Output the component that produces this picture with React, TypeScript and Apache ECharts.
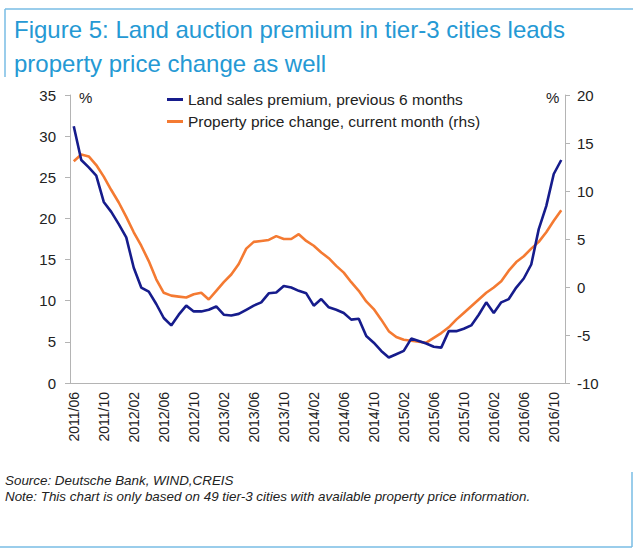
import React, { useEffect, useRef } from "react";
import * as echarts from "echarts";

const months: string[] = [
  "2011/06","2011/07","2011/08","2011/09","2011/10","2011/11","2011/12",
  "2012/01","2012/02","2012/03","2012/04","2012/05","2012/06","2012/07","2012/08","2012/09","2012/10","2012/11","2012/12",
  "2013/01","2013/02","2013/03","2013/04","2013/05","2013/06","2013/07","2013/08","2013/09","2013/10","2013/11","2013/12",
  "2014/01","2014/02","2014/03","2014/04","2014/05","2014/06","2014/07","2014/08","2014/09","2014/10","2014/11","2014/12",
  "2015/01","2015/02","2015/03","2015/04","2015/05","2015/06","2015/07","2015/08","2015/09","2015/10","2015/11","2015/12",
  "2016/01","2016/02","2016/03","2016/04","2016/05","2016/06","2016/07","2016/08","2016/09","2016/10","2016/11",
];

const landPremium: number[] = [
  31.2, 27.1, 26.2, 25.2, 22.0, 20.8, 19.3, 17.7, 14.0, 11.6, 11.1,
  9.6, 7.9, 7.0, 8.3, 9.4, 8.7, 8.7, 8.9, 9.3, 8.3, 8.2,
  8.4, 8.9, 9.4, 9.8, 10.9, 11.0, 11.8, 11.6, 11.2, 10.9, 9.4,
  10.2, 9.2, 8.9, 8.5, 7.7, 7.8, 5.7, 4.9, 3.9, 3.1, 3.5, 3.9,
  5.4, 5.1, 4.8, 4.4, 4.3, 6.3, 6.3, 6.6, 7.0, 8.3, 9.8,
  8.5, 9.8, 10.2, 11.6, 12.7, 14.4, 18.7, 21.5, 25.4, 27.1,
];

const priceChange: number[] = [
  13.1, 13.8, 13.6, 12.7, 11.5, 10.1, 8.8, 7.3, 5.7, 4.3, 2.7,
  0.8, -0.6, -0.9, -1.0, -1.1, -0.75, -0.6, -1.3, -0.4, 0.5, 1.3,
  2.4, 4.0, 4.7, 4.8, 4.9, 5.3, 5.0, 5.0, 5.5, 4.8, 4.3,
  3.6, 3.0, 2.2, 1.5, 0.5, -0.4, -1.5, -2.3, -3.4, -4.6, -5.2, -5.5,
  -5.6, -5.7, -5.8, -5.3, -4.8, -4.2, -3.4, -2.7, -2.0, -1.3, -0.6,
  -0.05, 0.6, 1.7, 2.6, 3.2, 4.0, 4.7, 5.7, 6.9, 8.0,
];

const seriesNames: string[] = [
  "Land sales premium, previous 6 months",
  "Property price change, current month (rhs)",
];

const titleText = "Figure 5: Land auction premium in tier-3 cities leads\nproperty price change as well";
const sourceText = "Source: Deutsche Bank, WIND,CREIS";
const noteText = "Note: This chart is only based on 49 tier-3 cities with available property price information.";

const BLUE = "#161c8c";
const ORANGE = "#f47a32";
const FRAME = "#78bde4";
const TITLE = "#2599d4";
const AXIS = "#b4b4b4";
const TEXT = "#222222";
const FONT = "'Liberation Sans', Arial, Helvetica, sans-serif";

export default function App() {
  const ref = useRef<HTMLDivElement>(null);
  useEffect(() => {
    if (!ref.current) return;
    const chart = echarts.init(ref.current, undefined, { renderer: "svg" });
    chart.setOption({
      animation: false,
      backgroundColor: "#ffffff",
      textStyle: { fontFamily: FONT },
      title: {
        text: titleText,
        left: 9,
        top: 7,
        textStyle: {
          color: TITLE,
          fontSize: 24,
          fontWeight: "normal",
          lineHeight: 34,
          fontFamily: FONT,
        },
      },
      legend: {
        orient: "vertical",
        left: 162,
        top: 86,
        itemWidth: 16,
        itemHeight: 3,
        itemGap: 5,
        icon: "rect",
        textStyle: { color: TEXT, fontSize: 15.5, lineHeight: 17, fontFamily: FONT },
        data: seriesNames,
      },
      grid: { left: 70, right: 75, top: 95, bottom: 171, containLabel: false },
      xAxis: {
        type: "category",
        data: months,
        boundaryGap: true,
        axisLine: { lineStyle: { color: AXIS, width: 1 } },
        axisTick: { interval: 3, alignWithLabel: false, length: 5, lineStyle: { color: AXIS } },
        axisLabel: {
          interval: 3,
          rotate: 90,
          color: TEXT,
          fontSize: 14,
          margin: 9,
          fontFamily: FONT,
        },
        splitLine: { show: false },
      },
      yAxis: [
        {
          type: "value",
          min: 0,
          max: 35,
          interval: 5,
          position: "left",
          axisLine: { show: true, lineStyle: { color: AXIS } },
          axisTick: { show: true, length: 5, lineStyle: { color: AXIS } },
          axisLabel: { color: TEXT, fontSize: 15, margin: 14, fontFamily: FONT },
          splitLine: { show: false },
        },
        {
          type: "value",
          min: -10,
          max: 20,
          interval: 5,
          position: "right",
          axisLine: { show: true, lineStyle: { color: AXIS } },
          axisTick: { show: true, length: 5, lineStyle: { color: AXIS } },
          axisLabel: { color: TEXT, fontSize: 15, margin: 12, fontFamily: FONT },
          splitLine: { show: false },
        },
      ],
      series: [
        {
          name: seriesNames[0],
          type: "line",
          yAxisIndex: 0,
          data: landPremium,
          showSymbol: false,
          symbol: "none",
          lineStyle: { color: BLUE, width: 2.6 },
          itemStyle: { color: BLUE },
        },
        {
          name: seriesNames[1],
          type: "line",
          yAxisIndex: 1,
          data: priceChange,
          showSymbol: false,
          symbol: "none",
          lineStyle: { color: ORANGE, width: 2.6 },
          itemStyle: { color: ORANGE },
          z: 1,
        },
      ],
      graphic: [
        { type: "line", shape: { x1: 5, y1: 9, x2: 633, y2: 9 }, style: { stroke: FRAME, lineWidth: 1.5 } },
        { type: "line", shape: { x1: 5, y1: 9, x2: 5, y2: 77 }, style: { stroke: FRAME, lineWidth: 1.5 } },
        { type: "line", shape: { x1: 632, y1: 472, x2: 632, y2: 547 }, style: { stroke: FRAME, lineWidth: 1.5 } },
        { type: "line", shape: { x1: 0, y1: 547, x2: 632, y2: 547 }, style: { stroke: FRAME, lineWidth: 1.5 } },
        {
          type: "text",
          x: 79,
          y: 90,
          style: { text: "%", fill: TEXT, font: `15px ${FONT}` },
        },
        {
          type: "text",
          x: 546,
          y: 90,
          style: { text: "%", fill: TEXT, font: `15px ${FONT}` },
        },
        {
          type: "text",
          x: 5,
          y: 474,
          style: { text: sourceText, fill: TEXT, font: `italic 13.4px ${FONT}` },
        },
        {
          type: "text",
          x: 5,
          y: 490,
          style: { text: noteText, fill: TEXT, font: `italic 13.4px ${FONT}` },
        },
      ],
    });
    return () => chart.dispose();
  }, []);
  return (
    <div
      ref={ref}
      style={{ position: "fixed", left: 0, top: 0, width: 640, height: 554 }}
    />
  );
}
